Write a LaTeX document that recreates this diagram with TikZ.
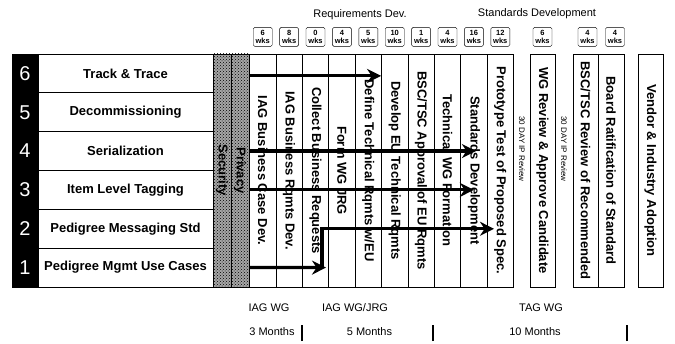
\documentclass[tikz,border=0pt]{standalone}
\usepackage{fontspec}
\setmainfont{Liberation Sans}
\usetikzlibrary{arrows.meta,positioning,patterns}

\begin{document}
\begin{tikzpicture}[
  x=1pt, y=1pt, >=Stealth, thick,
  font=\bfseries\fontsize{13}{15}\selectfont,
  numbox/.style={rectangle, draw, fill=black, text=white, font=\fontsize{20}{22}\selectfont, minimum width=26pt, minimum height=38.83pt, inner sep=0pt, outer sep=0pt},
  rowbox/.style={rectangle, draw, minimum width=175pt, minimum height=38.83pt, inner sep=0pt, outer sep=0pt},
  speck/.style={rectangle, draw, preaction={fill=black!35}, pattern=crosshatch dots, pattern color=black, rotate=-90, minimum width=233pt, minimum height=18pt, inner sep=0pt},
  task/.style={rectangle, draw, rotate=-90, minimum width=233pt, minimum height=26.4pt, inner sep=0pt},
  wks/.style={rectangle, rounded corners=1.5pt, draw, thin, font=\bfseries\fontsize{7.5}{8.5}\selectfont, align=center, minimum width=19pt, minimum height=19pt, inner sep=0pt},
  ipnote/.style={rotate=-90, font=\fontsize{8}{9}\selectfont},
  lab/.style={font=\fontsize{11}{13}\selectfont},
  flow/.style={line width=3.2pt, -{Stealth[length=14pt,width=14pt]}},
  bar/.style={line width=1.6pt}
]
\useasboundingbox (0,0) rectangle (675,343);

% numbered rows
\node[numbox] (n6) at (25,269.6) {6};
\node[numbox, below=0pt of n6] (n5) {5};
\node[numbox, below=0pt of n5] (n4) {4};
\node[numbox, below=0pt of n4] (n3) {3};
\node[numbox, below=0pt of n3] (n2) {2};
\node[numbox, below=0pt of n2] (n1) {1};

\node[rowbox, right=0pt of n6] (r6) {Track \& Trace};
\node[rowbox, right=0pt of n5] (r5) {Decommissioning};
\node[rowbox, right=0pt of n4] (r4) {Serialization};
\node[rowbox, right=0pt of n3] (r3) {Item Level Tagging};
\node[rowbox, right=0pt of n2] (r2) {Pedigree Messaging Std};
\node[rowbox, right=0pt of n1] (r1) {Pedigree Mgmt Use Cases};

\node[speck] (sec) at (222,172.5) {Security};
\node[speck] (priv) at (240,172.5) {Privacy};

% requirements / standards columns
\node[task] (c1) at (262.7,172.5) {IAG Business Case Dev.};
\node[task] (c2) at (289.1,172.5) {IAG Business Rqmts Dev.};
\node[task] (c3) at (315.5,172.5) {Collect Business Requests};
\node[task] (c4) at (341.9,172.5) {Form WG JRG};
\node[task] (c5) at (368.3,172.5) {Define Technical Rqmts w/EU};
\node[task] (c6) at (394.7,172.5) {Develop EU Technical Rqmts};
\node[task] (c7) at (421.1,172.5) {BSC/TSC Approval of EU Rqmts};
\node[task] (c8) at (447.5,172.5) {Technical WG Formation};
\node[task] (c9) at (473.9,172.5) {Standards Development};
\node[task] (c10) at (500.3,172.5) {Prototype Test of Proposed Spec.};

\node[task, minimum height=25pt] (wgr) at (542.5,172.5) {WG Review \& Approve Candidate};
\node[task, minimum height=25pt] (bsc) at (585.5,172.5) {BSC/TSC Review of Recommended};
\node[task, minimum height=26pt] (brd) at (611,172.5) {Board Ratification of Standard};
\node[task, minimum height=25pt] (ven) at (650.5,172.5) {Vendor \& Industry Adoption};

\node[ipnote] (ip1) at (522,194) {30 DAY IP Review};
\node[ipnote] (ip2) at (564,194) {30 DAY IP Review};

% durations
\node[wks, above=7pt of c1.west] (w1) {6\\wks};
\node[wks, above=7pt of c2.west] (w2) {8\\wks};
\node[wks, above=7pt of c3.west] (w3) {0\\wks};
\node[wks, above=7pt of c4.west] (w4) {4\\wks};
\node[wks, above=7pt of c5.west] (w5) {5\\wks};
\node[wks, above=7pt of c6.west] (w6) {10\\wks};
\node[wks, above=7pt of c7.west] (w7) {1\\wks};
\node[wks, above=7pt of c8.west] (w8) {4\\wks};
\node[wks, above=7pt of c9.west] (w9) {16\\wks};
\node[wks, above=7pt of c10.west] (w10) {12\\wks};
\node[wks, above=7pt of wgr.west] (w11) {6\\wks};
\node[wks, above=7pt of bsc.west, xshift=2pt] (w12) {4\\wks};
\node[wks, above=7pt of brd.west, xshift=4pt] (w13) {4\\wks};

\node[lab] (req) at (360,328) {Requirements Dev.};
\node[lab] (std) at (537,329) {Standards Development};

% flows
\coordinate (t2) at (494,114.2);
\coordinate (k1) at (322,75.4);
\coordinate (t1) at (326,75.4);
\draw[flow] ([yshift=-2.5pt]priv.north |- r6) -- ([yshift=-2.5pt]c6.south |- r6);
\draw[flow] (priv.north |- r4) -- ([xshift=2pt]c9.center |- r4);
\draw[flow] (priv.north |- r3) -- (c9.center |- r3);
\draw[flow] (priv.north |- r1) -- (t1);
\draw[flow] (k1) |- (t2);

% working groups
\node[lab] (g1) at (269,35) {IAG WG};
\node[lab] (g2) at (355,35) {IAG WG/JRG};
\node[lab] (g3) at (541,35) {TAG WG};
\node[lab] (m1) at (272,11) {3 Months};
\node[lab] (m2) at (369.5,11) {5 Months};
\node[lab] (m3) at (535,11) {10 Months};
\draw[bar] (302,2) -- (302,18);
\draw[bar] (433,2) -- (433,18);
\draw[bar] (627,2) -- (627,18);
\end{tikzpicture}
\end{document}
